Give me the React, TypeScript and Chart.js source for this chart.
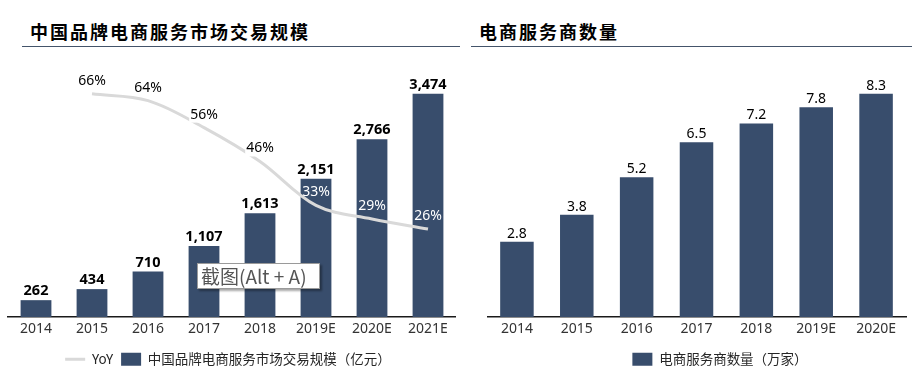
import React, { useEffect, useRef } from 'react';
import { Chart, registerables } from 'chart.js';

Chart.register(...registerables);

const FONT = '"Noto Sans", "Noto Sans CJK SC", sans-serif';
const CJK = '"Noto Sans CJK SC", "Noto Sans", sans-serif';

const BAR = '#384d6c';
const LINE = '#d9d9d9';
const TEXT = '#262626';

// left chart data
const marketYears = ['2014', '2015', '2016', '2017', '2018', '2019E', '2020E', '2021E'];
const marketSize = [262, 434, 710, 1107, 1613, 2151, 2766, 3474];
const yoyGrowth: (number | null)[] = [null, 66, 64, 56, 46, 33, 29, 26];
const yoyLabelColors = ['#000', '#000', '#000', '#000', '#000', '#fff', '#fff', '#fff'];

// right chart data
const providerYears = ['2014', '2015', '2016', '2017', '2018', '2019E', '2020E'];
const providerCount = [2.8, 3.8, 5.2, 6.5, 7.2, 7.8, 8.3];

const leftTitle = '中国品牌电商服务市场交易规模';
const rightTitle = '电商服务商数量';
const leftBarLabel = '中国品牌电商服务市场交易规模（亿元）';
const rightBarLabel = '电商服务商数量（万家）';

const legendOpts = (items: any[]) => ({
  position: 'bottom' as const,
  labels: {
    usePointStyle: true,
    pointStyleWidth: 20,
    boxHeight: 13,
    padding: 8,
    color: TEXT,
    font: { family: CJK, size: 13.5 },
    generateLabels: () => items,
  },
});

const xScale = {
  grid: { display: false, drawTicks: false },
  border: { display: true, color: '#1a1a1a', width: 1.5 },
  ticks: { color: '#333', font: { family: FONT, size: 14 }, padding: 4 },
  afterFit: (s: any) => {
    s.height = 27.5;
  },
};

const hiddenAxis = (position: string, width: number, max: number) => ({
  position,
  min: 0,
  max,
  grid: { display: false, drawTicks: false },
  border: { display: false },
  ticks: { display: false },
  afterFit: (s: any) => {
    s.width = width;
  },
});

function LeftChart() {
  const ref = useRef<HTMLCanvasElement>(null);
  useEffect(() => {
    const labelPlugin = {
      id: 'leftLabels',
      afterDatasetsDraw(chart: any) {
        const ctx = chart.ctx;
        ctx.save();
        ctx.textAlign = 'center';
        ctx.textBaseline = 'middle';
        const barMeta = chart.getDatasetMeta(1);
        ctx.font = `bold 14.5px ${FONT}`;
        ctx.fillStyle = '#000';
        barMeta.data.forEach((el: any, i: number) => {
          ctx.fillText(marketSize[i].toLocaleString('en-US'), el.x, el.y - 9);
        });
        const lineMeta = chart.getDatasetMeta(0);
        ctx.font = `14px ${FONT}`;
        lineMeta.data.forEach((el: any, i: number) => {
          const v = yoyGrowth[i];
          if (v == null) return;
          const txt = v + '%';
          const y = el.y - 13;
          if (yoyLabelColors[i] === '#000') {
            const w = ctx.measureText(txt).width;
            ctx.fillStyle = '#fff';
            ctx.fillRect(el.x - w / 2 - 1, y - 8, w + 2, 16);
          }
          ctx.fillStyle = yoyLabelColors[i];
          ctx.fillText(txt, el.x, y);
        });
        ctx.restore();
      },
    };
    const chart = new Chart(ref.current!, {
      type: 'bar',
      data: {
        labels: marketYears,
        datasets: [
          {
            type: 'line',
            label: 'YoY',
            data: yoyGrowth,
            yAxisID: 'y2',
            borderColor: LINE,
            backgroundColor: LINE,
            borderWidth: 3,
            pointRadius: 0,
            tension: 0.35,
            order: 0,
          } as any,
          {
            type: 'bar',
            label: leftBarLabel,
            data: marketSize,
            yAxisID: 'y',
            backgroundColor: BAR,
            barPercentage: 0.55,
            categoryPercentage: 1,
            order: 1,
          },
        ],
      },
      options: {
        animation: false,
        responsive: false,
        maintainAspectRatio: false,
        layout: { padding: { top: 10, left: 0, right: 0, bottom: 0 } },
        plugins: {
          legend: legendOpts([
            { text: 'YoY', fillStyle: LINE, strokeStyle: LINE, lineWidth: 3, pointStyle: 'line', hidden: false, datasetIndex: 0, fontColor: TEXT },
            { text: leftBarLabel, fillStyle: BAR, strokeStyle: BAR, lineWidth: 0, pointStyle: 'rect', hidden: false, datasetIndex: 1, fontColor: TEXT },
          ]) as any,
          tooltip: { enabled: false },
        },
        scales: {
          x: xScale as any,
          y: hiddenAxis('left', 8, 4000) as any,
          y2: { display: false, min: 0, max: 76 },
        },
      },
      plugins: [labelPlugin],
    });
    return () => chart.destroy();
  }, []);
  return (
    <canvas
      ref={ref}
      width={456}
      height={326}
      style={{ position: 'absolute', left: 0, top: 50, width: 456, height: 326 }}
    />
  );
}

function RightChart() {
  const ref = useRef<HTMLCanvasElement>(null);
  useEffect(() => {
    const labelPlugin = {
      id: 'rightLabels',
      afterDatasetsDraw(chart: any) {
        const ctx = chart.ctx;
        ctx.save();
        ctx.textAlign = 'center';
        ctx.textBaseline = 'middle';
        ctx.font = `14px ${FONT}`;
        ctx.fillStyle = '#000';
        chart.getDatasetMeta(0).data.forEach((el: any, i: number) => {
          ctx.fillText(providerCount[i].toFixed(1), el.x, el.y - 8);
        });
        ctx.restore();
      },
    };
    const chart = new Chart(ref.current!, {
      type: 'bar',
      data: {
        labels: providerYears,
        datasets: [
          {
            label: rightBarLabel,
            data: providerCount,
            backgroundColor: BAR,
            barPercentage: 0.56,
            categoryPercentage: 1,
          },
        ],
      },
      options: {
        animation: false,
        responsive: false,
        maintainAspectRatio: false,
        layout: { padding: { top: 10, left: 0, right: 0, bottom: 0 } },
        plugins: {
          legend: legendOpts([
            { text: rightBarLabel, fillStyle: BAR, strokeStyle: BAR, lineWidth: 0, pointStyle: 'rect', hidden: false, datasetIndex: 0, fontColor: TEXT },
          ]) as any,
          tooltip: { enabled: false },
        },
        scales: {
          x: xScale as any,
          y: hiddenAxis('right', 47, 9.56) as any,
        },
      },
      plugins: [labelPlugin],
    });
    return () => chart.destroy();
  }, []);
  return (
    <canvas
      ref={ref}
      width={466}
      height={326}
      style={{ position: 'absolute', left: 487, top: 50, width: 466, height: 326 }}
    />
  );
}

const titleStyle: React.CSSProperties = {
  position: 'absolute',
  top: 22,
  fontFamily: CJK,
  fontWeight: 700,
  fontSize: 18,
  lineHeight: '18px',
  letterSpacing: 2,
  color: '#000',
  whiteSpace: 'nowrap',
};

export default function App() {
  return (
    <div
      style={{
        position: 'fixed',
        left: 0,
        top: 0,
        width: 923,
        height: 376,
        overflow: 'hidden',
        background: '#fff',
      }}
    >
      <div style={{ ...titleStyle, left: 30 }}>{leftTitle}</div>
      <div style={{ ...titleStyle, left: 479 }}>{rightTitle}</div>
      <div style={{ position: 'absolute', left: 22, top: 45.5, width: 438, height: 1.5, background: '#44546a' }} />
      <div style={{ position: 'absolute', left: 471, top: 45.5, width: 441, height: 1.5, background: '#44546a' }} />
      <LeftChart />
      <RightChart />
      <div
        style={{
          position: 'absolute',
          left: 197,
          top: 263,
          width: 118,
          height: 24,
          background: '#fff',
          border: '1px solid #9a9a9a',
          boxShadow: '2px 2px 2px rgba(0,0,0,0.35)',
          fontFamily: CJK,
          fontSize: 19,
          lineHeight: '24px',
          color: '#555',
          paddingLeft: 3,
          boxSizing: 'content-box',
          whiteSpace: 'nowrap',
          overflow: 'hidden',
          zIndex: 2,
        }}
      >
        截图(Alt + A)
      </div>
    </div>
  );
}
